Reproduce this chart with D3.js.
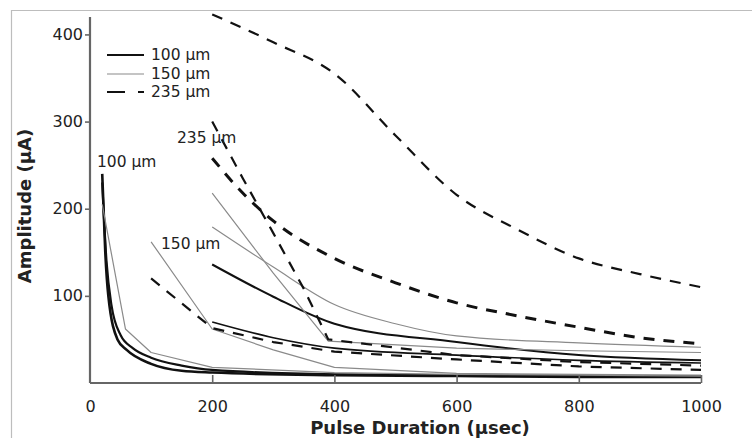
<!DOCTYPE html>
<html><head><meta charset="utf-8">
<script src="https://cdn.jsdelivr.net/npm/d3@7"></script>
<style>
body{margin:0;background:#fff;}
svg{display:block;font-family:"DejaVu Sans",sans-serif;}
</style></head>
<body><svg id="c" width="752" height="438"></svg>
<script>
// ---- data ----
const xTicks = [0, 200, 400, 600, 800, 1000];
const yTicks = [100, 200, 300, 400];
const groups = ["100 µm", "150 µm", "235 µm"];

// 100 µm (solid)
const s100a = [[20,240],[25,150],[30,100],[45,50],[60,38],[100,22],[150,14],[200,12],[400,9],[600,8],[800,7],[1000,7]];
const s100b = [[20,230],[27,140],[35,90],[50,55],[70,40],[100,29],[150,20],[200,15],[400,10],[600,9],[800,8],[1000,8]];
const s100c = [[200,136],[300,99],[400,68],[600,47],[800,32],[1000,26]];
const s100d = [[200,70],[300,52],[400,40],[600,32],[800,26],[1000,23]];
// 150 µm (thin gray)
const s150a = [[20,205],[58,62],[100,35],[200,18],[400,12],[600,10],[800,9],[1000,8]];
const s150b = [[100,162],[200,62],[300,38],[400,18],[600,11],[800,10],[1000,9]];
const s150c = [[200,218],[300,126],[390,48],[600,40],[800,37],[1000,35]];
const s150d = [[200,179],[300,133],[400,90],[500,68],[600,54],[800,46],[1000,41]];
// 235 µm (dashed)
const s235a = [[100,120],[200,63],[300,47],[400,36],[600,27],[800,19],[1000,15]];
const s235b = [[200,300],[250,235],[300,172],[350,108],[390,50],[600,32],[800,24],[1000,20]];
const s235c = [[200,258],[250,218],[300,186],[400,143],[500,115],[600,92],[700,77],[800,64],[900,52],[1000,45]];
const s235d = [[200,423],[300,391],[400,355],[500,284],[600,216],[700,176],[800,143],[900,125],[1000,110]];

const series = [
  {g:0, d:s100a, w:2.6, c:"m"}, {g:0, d:s100b, w:2.2, c:"m"}, {g:0, d:s100c, w:2, c:"m"}, {g:0, d:s100d, w:1.6, c:"m"},
  {g:1, d:s150a, w:1.2, c:"l"}, {g:1, d:s150b, w:1.2, c:"l"}, {g:1, d:s150c, w:1.2, c:"l"}, {g:1, d:s150d, w:1.2, c:"m"},
  {g:2, d:s235a, w:2.2, c:"l"}, {g:2, d:s235b, w:2.2, c:"l"}, {g:2, d:s235c, w:3, c:"m"}, {g:2, d:s235d, w:2.2, c:"m"}
];
const styles = [
  {stroke:"#111", dash:null},
  {stroke:"#8a8a8a", dash:null},
  {stroke:"#111", dash:"11,9"}
];

// ---- drawing ----
const svg = d3.select("#c");
svg.append("rect").attr("x",0).attr("y",0).attr("width",752).attr("height",438).attr("fill","#fff");
svg.append("path").attr("d","M11.5,438 L11.5,10.5 L752,10.5").attr("fill","none").attr("stroke","#bdbdbd").attr("stroke-width",1.2);

const x = d3.scaleLinear().domain([0,1000]).range([90,701]);
const y = d3.scaleLinear().domain([0,420]).range([383,17]);

const lineM = d3.line().x(d=>x(d[0])).y(d=>y(d[1])).curve(d3.curveMonotoneX);
const lineL = d3.line().x(d=>x(d[0])).y(d=>y(d[1])).curve(d3.curveLinear);

series.forEach(s=>{
  const st = styles[s.g];
  svg.append("path").attr("d", (s.c==="l"?lineL:lineM)(s.d)).attr("fill","none")
    .attr("stroke", st.stroke).attr("stroke-width", s.w)
    .attr("stroke-linejoin","round")
    .attr("stroke-dasharray", st.dash);
});

// axes
const ax = svg.append("g").attr("transform","translate(0,383)")
  .call(d3.axisBottom(x).tickValues(xTicks).tickFormat(d3.format("d")).tickSize(-8).tickPadding(18));
const ay = svg.append("g").attr("transform","translate(90,0)")
  .call(d3.axisLeft(y).tickValues(yTicks).tickFormat(d3.format("d")).tickSize(5).tickPadding(2));
[ax, ay].forEach(a=>{
  a.select(".domain").attr("stroke","#666").attr("stroke-width",2.2);
  a.selectAll(".tick line").attr("stroke","#666").attr("stroke-width",1.6);
  a.selectAll(".tick text").attr("fill","#222").attr("font-size",16).attr("font-family","\"DejaVu Sans\",sans-serif");
});
ax.selectAll(".tick").filter(d=>d===0).select("line").remove();
ax.select(".domain").attr("d","M90,0H701");
ay.select(".domain").attr("d","M0,17V383");

// axis titles
svg.append("text").attr("x",420).attr("y",434).attr("text-anchor","middle")
  .attr("font-weight","bold").attr("font-size",18).attr("fill","#222").text("Pulse Duration (µsec)");
svg.append("text").attr("transform","translate(31,206) rotate(-90)").attr("text-anchor","middle")
  .attr("font-weight","bold").attr("font-size",18).attr("fill","#222").text("Amplitude (µA)");

// legend
const ly = [55, 74, 92];
groups.forEach((g,i)=>{
  const st = styles[i];
  svg.append("line").attr("x1",107).attr("x2",144).attr("y1",ly[i]).attr("y2",ly[i])
    .attr("stroke",st.stroke).attr("stroke-width", i===1?1.2:2)
    .attr("stroke-dasharray", st.dash ? "18,13" : null);
  svg.append("text").attr("x",151).attr("y",ly[i]+5).attr("font-size",15.5).attr("fill","#222").text(g);
});

// annotations
const notes = [{t:"100 µm", x:97, y:167}, {t:"235 µm", x:177, y:143}, {t:"150 µm", x:161, y:249}];
notes.forEach(n=>svg.append("text").attr("x",n.x).attr("y",n.y).attr("font-size",15.5).attr("fill","#222").text(n.t));
</script></body></html>
